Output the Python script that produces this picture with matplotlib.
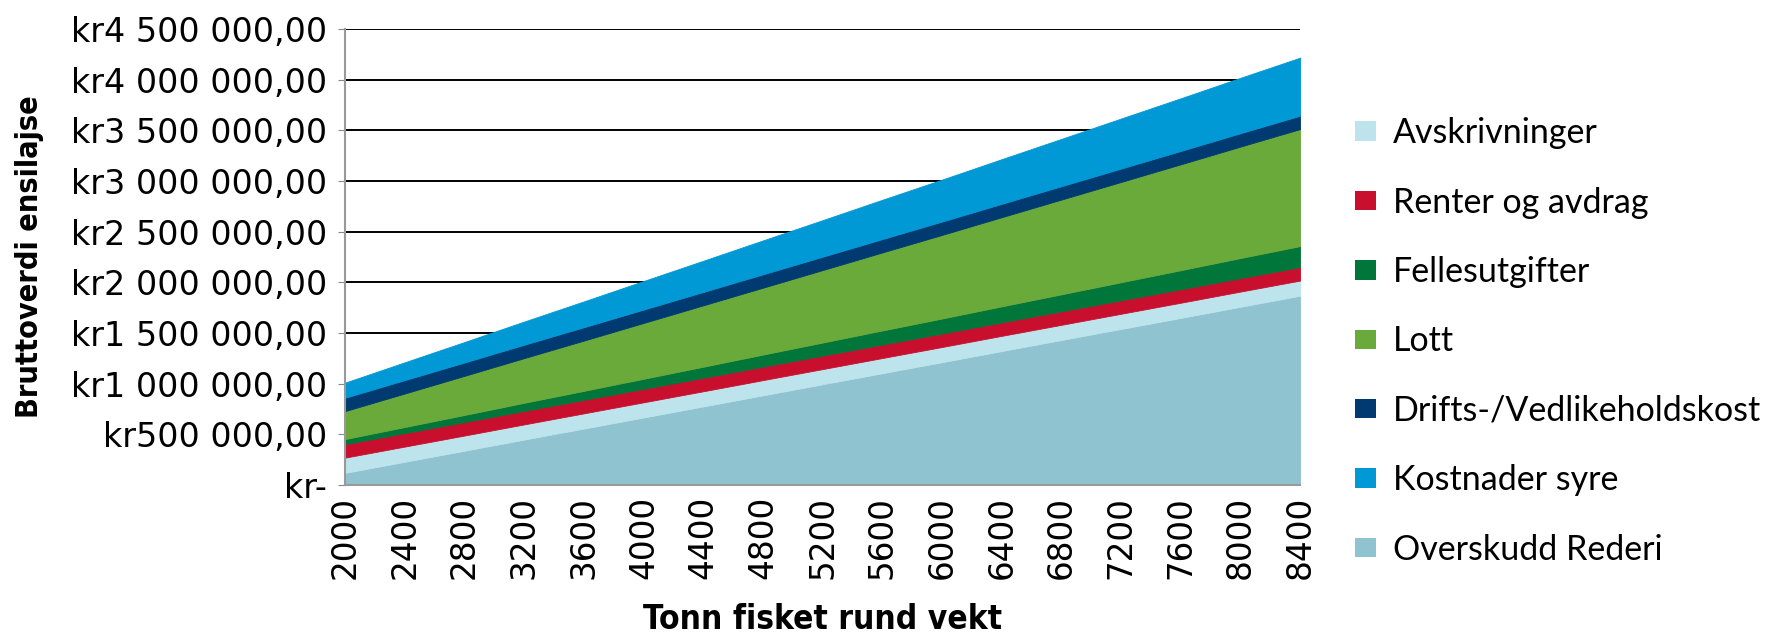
import matplotlib
matplotlib.use("Agg")
import matplotlib.pyplot as plt
from matplotlib.patches import Patch
from matplotlib.ticker import FuncFormatter

# tonn fisket rund vekt (kategorier)
tonn = [2000, 2400, 2800, 3200, 3600, 4000, 4400, 4800, 5200,
        5600, 6000, 6400, 6800, 7200, 7600, 8000, 8400]

# verdier i kr, lest av figuren (nederst -> øverst i stabelen)
overskudd = [120e3, 229e3, 338e3, 448e3, 557e3, 666e3, 775e3, 885e3, 994e3,
             1103e3, 1212e3, 1322e3, 1431e3, 1540e3, 1649e3, 1759e3, 1868e3]
avskrivninger = [150e3] * 17
renter = [133e3] * 17
felles = [50e3, 60e3, 70e3, 80e3, 89e3, 99e3, 109e3, 119e3, 129e3,
          139e3, 148e3, 158e3, 168e3, 178e3, 188e3, 198e3, 207e3]
lott = [276e3, 331e3, 386e3, 441e3, 496e3, 551e3, 606e3, 660e3, 715e3,
        770e3, 825e3, 880e3, 935e3, 990e3, 1045e3, 1100e3, 1155e3]
drifts = [132e3] * 17
syre = [149e3, 176e3, 202e3, 229e3, 255e3, 282e3, 308e3, 335e3, 361e3,
        388e3, 414e3, 441e3, 467e3, 494e3, 520e3, 547e3, 573e3]

series = [
    ("Overskudd Rederi", overskudd, "#8fc3cf"),
    ("Avskrivninger", avskrivninger, "#bde4ec"),
    ("Renter og avdrag", renter, "#c8102e"),
    ("Fellesutgifter", felles, "#00763a"),
    ("Lott", lott, "#6aaa3a"),
    ("Drifts-/Vedlikeholdskost", drifts, "#003a70"),
    ("Kostnader syre", syre, "#0099d5"),
]
legend_order = ["Avskrivninger", "Renter og avdrag", "Fellesutgifter", "Lott",
                "Drifts-/Vedlikeholdskost", "Kostnader syre", "Overskudd Rederi"]

fig = plt.figure(figsize=(17.74, 6.4), dpi=100)
ax = fig.add_axes([0.1945, 0.2422, 0.5385, 0.7125])

polys = ax.stackplot(tonn, *[s[1] for s in series], colors=[s[2] for s in series],
                     zorder=3)
for p, s in zip(polys, series):
    p.set_edgecolor(s[2])
    p.set_linewidth(0.6)

ax.set_xlim(tonn[0], tonn[-1])
ax.set_ylim(0, 4.5e6)
ax.set_yticks([i * 5e5 for i in range(10)])
ax.set_xticks(tonn)
ax.set_xticklabels([str(t) for t in tonn], rotation=90, fontsize=23.5)


def kr(v, pos):
    if v == 0:
        return "kr-"
    s = f"{v:,.2f}".replace(",", " ").replace(".", ",")
    return "kr" + s


ax.yaxis.set_major_formatter(FuncFormatter(kr))
ax.tick_params(axis="y", labelsize=24, length=5, color="#888888", pad=8)
ax.tick_params(axis="x", length=0, pad=8)
ax.grid(axis="y", color="black", linewidth=1.4, zorder=1)
ax.set_axisbelow(True)
for side in ["top", "right"]:
    ax.spines[side].set_visible(False)
for side in ["left", "bottom"]:
    ax.spines[side].set_color("#999999")
    ax.spines[side].set_linewidth(1.5)
    ax.spines[side].set_zorder(4)

ax.set_ylabel("Bruttoverdi ensilajse", fontsize=22, fontweight="bold",
              fontstretch="condensed")
ax.yaxis.set_label_coords(-0.315, 0.5)
ax.set_xlabel("Tonn fisket rund vekt", fontsize=24, fontweight="bold",
              fontstretch="condensed", labelpad=17)

lookup = {s[0]: s[2] for s in series}
handles = [Patch(facecolor=lookup[n], edgecolor="none", label=n) for n in legend_order]
fig.legend(handles=handles, loc="upper left", bbox_to_anchor=(0.764, 0.817),
           frameon=False, prop={"family": "Lato", "size": 24.5},
           handlelength=0.6, handleheight=0.5, handletextpad=0.5,
           labelspacing=1.1, borderaxespad=0, borderpad=0)

fig.savefig("out.png", dpi=100)
